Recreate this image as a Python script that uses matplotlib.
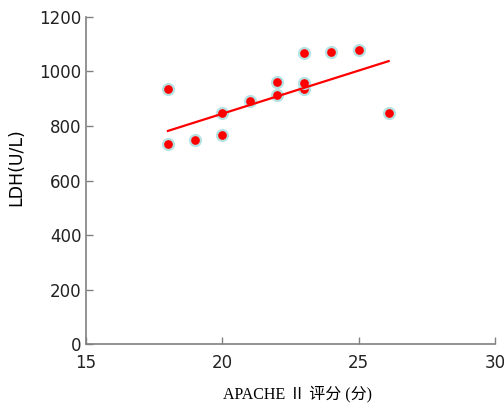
import matplotlib.pyplot as plt
import numpy as np

# APACHE II score vs LDH
apache = [18, 18, 19, 20, 20, 21, 22, 22, 23, 23, 23, 24, 25, 26.1]
ldh = [936, 734, 749, 848, 767, 892, 961, 914, 1068, 935, 958, 1071, 1079, 848]

# regression line end points
line_x = [18, 26.1]
line_y = [782, 1038]

fig = plt.figure(figsize=(5.04, 4.03), dpi=100)
ax = fig.add_axes([0.171, 0.146, 0.811, 0.812])

ax.scatter(apache, ldh, s=62, color='#ff0000', edgecolors='#b5e3e3',
           linewidths=1.6, zorder=3)
ax.plot(line_x, line_y, color='#ff0000', lw=1.6, zorder=4)

ax.set_xlim(15, 30)
ax.set_ylim(0, 1200)
ax.set_xticks([15, 20, 25, 30])
ax.set_yticks(np.arange(0, 1201, 200))

for s in ['top', 'right']:
    ax.spines[s].set_visible(False)
for s in ['left', 'bottom']:
    ax.spines[s].set_color('#808080')
    ax.spines[s].set_linewidth(1.2)
ax.tick_params(direction='in', length=5, width=1, color='#808080',
               labelsize=12, labelcolor='#222222')
ax.tick_params(axis='x', pad=7)

ax.set_ylabel('LDH(U/L)', fontsize=12.5)
ax.yaxis.set_label_coords(-0.15, 0.54)
ax.set_xlabel('APACHE Ⅱ 评分 (分)', fontsize=11.5,
              family=['Liberation Serif', 'Noto Sans CJK SC'])
ax.xaxis.set_label_coords(0.518, -0.125)

fig.savefig('out.png', dpi=100)
